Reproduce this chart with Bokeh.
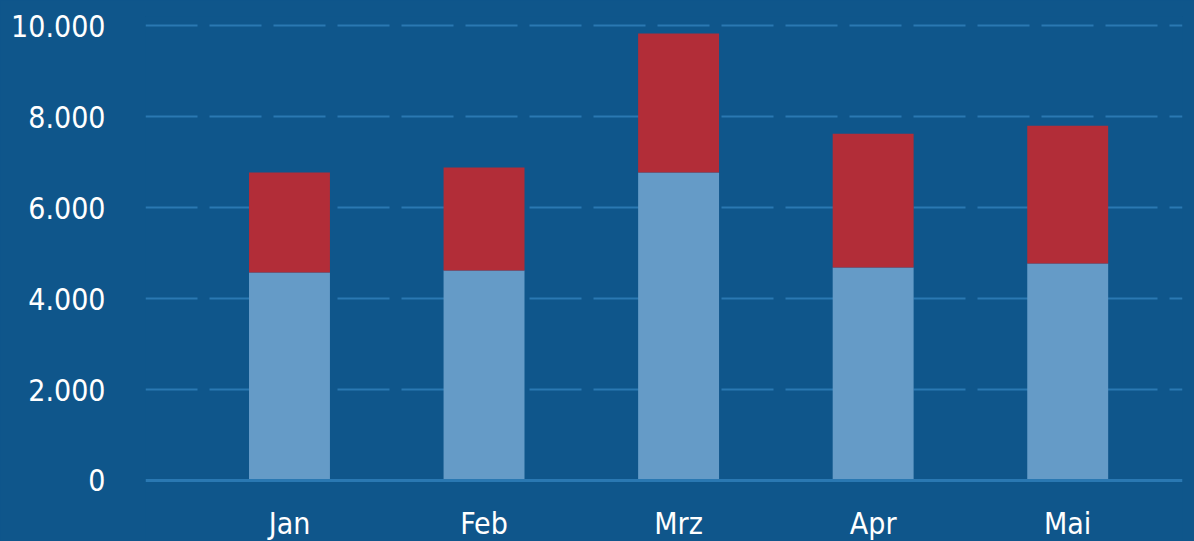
from bokeh.plotting import figure
from bokeh.models import Range1d, FixedTicker, ColumnDataSource, Span
from bokeh.core.properties import value
from bokeh.embed import file_html
from bokeh.resources import INLINE

months = ["Jan", "Feb", "Mrz", "Apr", "Mai"]
series_a = [4570, 4615, 6770, 4680, 4770]   # light blue (bottom)
series_b = [2200, 2265, 3055, 2945, 3030]   # red (top)
y_ticks = [0, 2000, 4000, 6000, 8000, 10000]
y_labels = ["0", "2.000", "4.000", "6.000", "8.000", "10.000"]

BG = "#0f568b"
GRID = "#2a78b2"
BLUE = "#659bc7"
RED = "#b22d38"
FONT = "'DejaVu Sans Condensed', 'Roboto Condensed', Roboto"

xs = list(range(len(months)))
src = ColumnDataSource(dict(x=xs, a=series_a, b=series_b))
LABEL_Y = -940
lab_src = ColumnDataSource(dict(x=xs, y=[LABEL_Y] * len(xs), t=months))

p = figure(width=1194, height=541, output_backend="svg", toolbar_location=None,
           x_range=Range1d(-0.74, 4.59), y_range=Range1d(-1341, 10200),
           background_fill_color=BG, border_fill_color=BG,
           min_border_left=145, min_border_right=12, min_border_top=16, min_border_bottom=0)
p.outline_line_color = None
p.xaxis.visible = False

p.vbar_stack(["a", "b"], x="x", width=0.416, color=[BLUE, RED], line_color=None, source=src)

p.add_layout(Span(location=0, dimension="width", line_color=GRID, line_width=3))

p.text(x="x", y="y", text="t", source=lab_src, text_color="white",
       text_font=value(FONT), text_font_size="30px",
       text_align="center", text_baseline="middle")

p.xgrid.grid_line_color = None
p.ygrid.grid_line_color = GRID
p.ygrid.grid_line_width = 2
p.ygrid.grid_line_dash = "52 12"
p.ygrid.ticker = FixedTicker(ticks=y_ticks[1:])

p.yaxis.ticker = FixedTicker(ticks=y_ticks)
p.yaxis.major_label_overrides = {t: l for t, l in zip(y_ticks, y_labels)}
p.yaxis.axis_line_color = None
p.yaxis.major_tick_line_color = None
p.yaxis.minor_tick_line_color = None
p.yaxis.major_tick_out = 0
p.yaxis.major_tick_in = 0
p.yaxis.major_label_text_color = "white"
p.yaxis.major_label_text_font = FONT
p.yaxis.major_label_text_font_size = "30px"
p.yaxis.major_label_standoff = 40

html = file_html(p, INLINE)
html = html.replace("<body>", '<body style="background:%s">' % BG, 1)
html = html.replace("<html", '<html style="background:%s"' % BG, 1)
open("out.html", "w").write(html)
